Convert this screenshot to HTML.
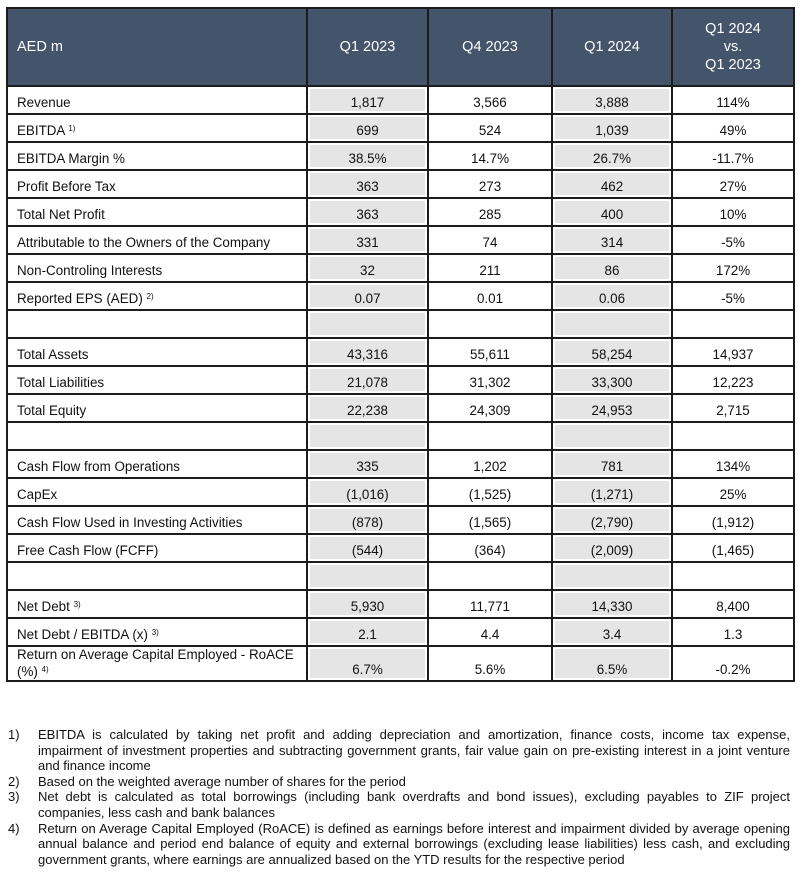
<!DOCTYPE html>
<html><head><meta charset="utf-8"><style>
body{margin:0;background:#fff;width:800px;height:880px;position:relative;font-family:"Liberation Sans",Arial,sans-serif;color:#111;overflow:hidden}
table{position:absolute;left:6px;top:7px;border-collapse:collapse;table-layout:fixed;font-size:13.4px}
td,th{border:2px solid #1c1c1c;padding:0 8px 3px;vertical-align:bottom;height:23px;text-align:center;overflow:hidden;white-space:nowrap}
th{background:#44546a;color:#fff;font-weight:normal;height:76px;vertical-align:middle;font-size:14.5px;line-height:18px;padding:0}
th:first-child{text-align:left;padding-left:9px}
td:first-child{text-align:left;padding-left:9px}
td.s{background:#e6e5e5;box-shadow:inset 0 0 0 2px #fff}
sup{font-size:8px;vertical-align:4px}
.fn{position:absolute;left:8px;width:782px;font-size:13px;line-height:15.6px;top:727px}
.fn>div{display:flex}
.fn b{font-weight:normal;width:30px;flex:none}
.fn span{flex:1;display:block;min-width:0}
.fn i{font-style:normal;display:block;text-align:justify;text-align-last:justify}
.fn i.l{text-align-last:left}
</style></head><body>
<table>
<colgroup><col style="width:300px"><col style="width:121px"><col style="width:124px"><col style="width:120px"><col style="width:122px"></colgroup>
<tr><th>AED m</th><th>Q1 2023</th><th>Q4 2023</th><th>Q1 2024</th><th>Q1 2024<br>vs.<br>Q1 2023</th></tr>
<tr><td>Revenue</td><td class="s">1,817</td><td>3,566</td><td class="s">3,888</td><td>114%</td></tr>
<tr><td>EBITDA <sup>1)</sup></td><td class="s">699</td><td>524</td><td class="s">1,039</td><td>49%</td></tr>
<tr><td>EBITDA Margin %</td><td class="s">38.5%</td><td>14.7%</td><td class="s">26.7%</td><td>-11.7%</td></tr>
<tr><td>Profit Before Tax</td><td class="s">363</td><td>273</td><td class="s">462</td><td>27%</td></tr>
<tr><td>Total Net Profit</td><td class="s">363</td><td>285</td><td class="s">400</td><td>10%</td></tr>
<tr><td>Attributable to the Owners of the Company</td><td class="s">331</td><td>74</td><td class="s">314</td><td>-5%</td></tr>
<tr><td>Non-Controling Interests</td><td class="s">32</td><td>211</td><td class="s">86</td><td>172%</td></tr>
<tr><td>Reported EPS (AED) <sup>2)</sup></td><td class="s">0.07</td><td>0.01</td><td class="s">0.06</td><td>-5%</td></tr>
<tr><td></td><td class="s"></td><td></td><td class="s"></td><td></td></tr>
<tr><td>Total Assets</td><td class="s">43,316</td><td>55,611</td><td class="s">58,254</td><td>14,937</td></tr>
<tr><td>Total Liabilities</td><td class="s">21,078</td><td>31,302</td><td class="s">33,300</td><td>12,223</td></tr>
<tr><td>Total Equity</td><td class="s">22,238</td><td>24,309</td><td class="s">24,953</td><td>2,715</td></tr>
<tr><td></td><td class="s"></td><td></td><td class="s"></td><td></td></tr>
<tr><td>Cash Flow from Operations</td><td class="s">335</td><td>1,202</td><td class="s">781</td><td>134%</td></tr>
<tr><td>CapEx</td><td class="s">(1,016)</td><td>(1,525)</td><td class="s">(1,271)</td><td>25%</td></tr>
<tr><td>Cash Flow Used in Investing Activities</td><td class="s">(878)</td><td>(1,565)</td><td class="s">(2,790)</td><td>(1,912)</td></tr>
<tr><td>Free Cash Flow (FCFF)</td><td class="s">(544)</td><td>(364)</td><td class="s">(2,009)</td><td>(1,465)</td></tr>
<tr><td></td><td class="s"></td><td></td><td class="s"></td><td></td></tr>
<tr><td>Net Debt <sup>3)</sup></td><td class="s">5,930</td><td>11,771</td><td class="s">14,330</td><td>8,400</td></tr>
<tr><td>Net Debt / EBITDA (x) <sup>3)</sup></td><td class="s">2.1</td><td>4.4</td><td class="s">3.4</td><td>1.3</td></tr>
<tr><td style="height:28px;line-height:15px;white-space:normal;padding-bottom:1px">Return on Average Capital Employed - RoACE (%) <sup>4)</sup></td><td class="s">6.7%</td><td>5.6%</td><td class="s">6.5%</td><td>-0.2%</td></tr>
</table>
<div class="fn">
<div><b>1)</b><span><i>EBITDA is calculated by taking net profit and adding depreciation and amortization, finance costs, income tax expense,</i><i>impairment of investment properties and subtracting government grants, fair value gain on pre-existing interest in a joint venture</i><i class="l">and finance income</i></span></div>
<div><b>2)</b><span><i class="l">Based on the weighted average number of shares for the period</i></span></div>
<div><b>3)</b><span><i>Net debt is calculated as total borrowings (including bank overdrafts and bond issues), excluding payables to ZIF project</i><i class="l">companies, less cash and bank balances</i></span></div>
<div><b>4)</b><span><i>Return on Average Capital Employed (RoACE) is defined as earnings before interest and impairment divided by average opening</i><i>annual balance and period end balance of equity and external borrowings (excluding lease liabilities) less cash, and excluding</i><i class="l">government grants, where earnings are annualized based on the YTD results for the respective period</i></span></div>
</div>
</body></html>
